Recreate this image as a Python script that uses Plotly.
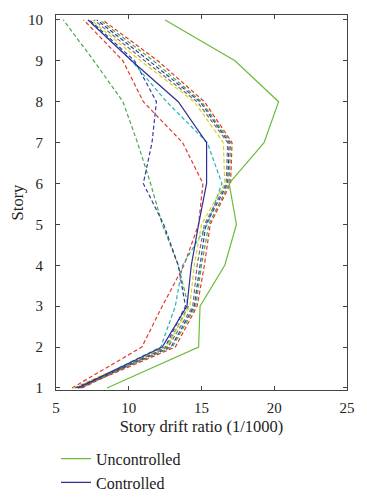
import plotly.graph_objects as go

stories = [1, 2, 3, 4, 5, 6, 7, 8, 9, 10]

uncontrolled = [8.5, 14.8, 14.9, 16.6, 17.4, 16.9, 19.3, 20.3, 17.3, 12.5]
controlled = [6.5, 12.3, 14.0, 14.3, 14.8, 15.35, 15.35, 13.4, 10.2, 7.2]

# individual dashed response curves
green_dash_a = [6.8, 12.6, 14.1, 13.4, 12.3, 11.5, 10.6, 9.6, 7.6, 5.5]
blue_dash_a = [6.7, 12.5, 13.9, 13.4, 12.4, 11.0, 11.6, 11.9, 10.4, 7.3]
red_dash_a = [6.1, 10.9, 12.3, 13.8, 14.8, 15.1, 13.7, 11.0, 9.6, 6.9]
cyan_dash_a = [6.5, 12.2, 13.2, 13.7, 15.4, 16.4, 15.4, 12.6, 10.2, 7.2]
red_dash_b = [6.6, 13.2, 14.7, 15.2, 15.6, 17.0, 17.1, 15.2, 12.0, 8.2]
green_dash_b = [6.5, 13.0, 14.6, 15.0, 15.5, 16.9, 17.0, 15.0, 11.7, 8.0]
blue_dash_b = [6.4, 12.9, 14.5, 14.9, 15.3, 16.8, 16.9, 14.9, 11.4, 7.8]
gray_dash_b = [6.3, 12.7, 14.4, 14.7, 15.2, 16.7, 16.8, 14.7, 11.1, 7.6]
yellow_dash_b = [6.2, 12.6, 14.2, 14.5, 15.0, 16.6, 16.5, 14.5, 10.8, 7.4]

x_ticks = [5, 10, 15, 20, 25]
y_ticks = [1, 2, 3, 4, 5, 6, 7, 8, 9, 10]

RED = "#e2382c"
GREEN = "#4aa84c"
BLUE = "#3a3a9e"
CYAN = "#22b4b8"
GRAY = "#707070"
YELLOW = "#d6d41e"

dashed = [
    (green_dash_a, GREEN),
    (blue_dash_a, BLUE),
    (red_dash_a, RED),
    (cyan_dash_a, CYAN),
    (yellow_dash_b, YELLOW),
    (gray_dash_b, GRAY),
    (blue_dash_b, BLUE),
    (green_dash_b, GREEN),
    (red_dash_b, RED),
]

fig = go.Figure()
for vals, col in dashed:
    fig.add_trace(go.Scatter(
        x=vals, y=stories, mode="lines", showlegend=False, hoverinfo="skip",
        line=dict(color=col, width=1.2, dash="4px,2.5px"),
    ))

fig.add_trace(go.Scatter(x=uncontrolled, y=stories, mode="lines", name="Uncontrolled",
                         line=dict(color="#6cbb3c", width=1.2)))
fig.add_trace(go.Scatter(x=controlled, y=stories, mode="lines", name="Controlled",
                         line=dict(color="#2e2e96", width=1.2)))

font_family = "Liberation Serif, Times New Roman, serif"

# page body has an 8px default margin, so the figure is sized to fit inside it
fig.update_layout(
    width=359, height=492,
    margin=dict(l=48, r=20, t=7, b=110, autoexpand=False),
    paper_bgcolor="white", plot_bgcolor="white",
    font=dict(family=font_family, size=15, color="#222"),
    legend=dict(x=0.0, y=-0.138, xanchor="left", yanchor="top",
                font=dict(size=16, family=font_family), bgcolor="rgba(0,0,0,0)",
                tracegroupgap=0),
    xaxis=dict(range=[5, 25], tickvals=x_ticks, ticks="inside", ticklen=4,
               showline=True, linecolor="#444", linewidth=1, mirror="ticks",
               showgrid=False, zeroline=False, ticklabelstandoff=4, automargin=False,
               title=dict(text="Story drift ratio (1/1000)", font=dict(size=16.5), standoff=5),
               tickfont=dict(size=15)),
    yaxis=dict(range=[0.95, 10.12], tickvals=y_ticks, ticks="inside", ticklen=4,
               showline=True, linecolor="#444", linewidth=1, mirror="ticks",
               showgrid=False, zeroline=False, ticklabelstandoff=9, automargin=False,
               title=dict(text="Story", font=dict(size=16.5), standoff=6),
               tickfont=dict(size=15)),
)

fig.write_html("out.html")
